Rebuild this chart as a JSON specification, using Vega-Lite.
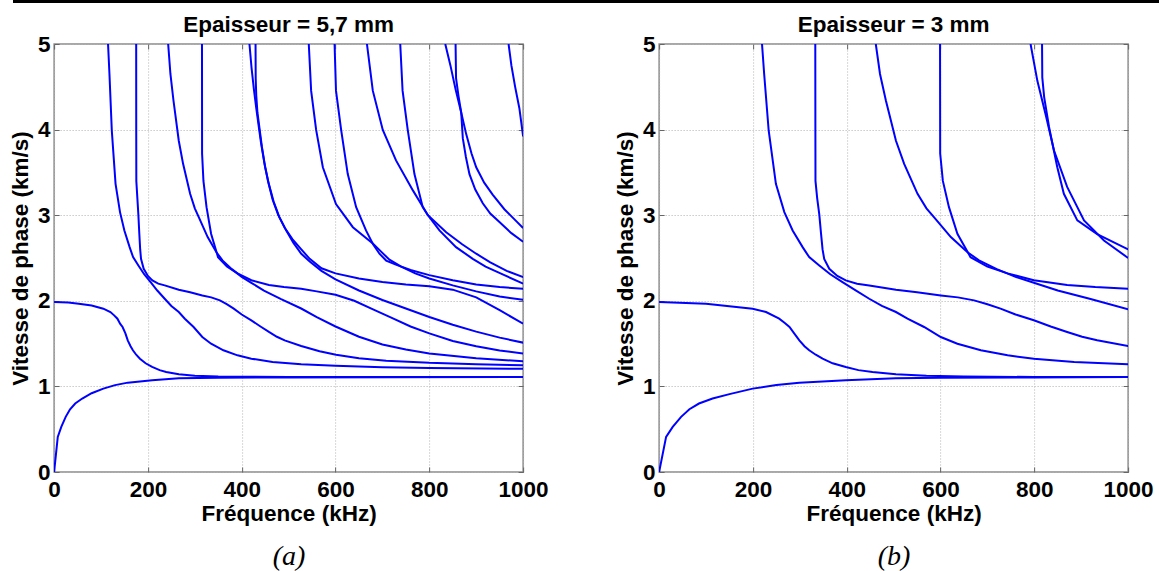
{
"$schema":"https://vega.github.io/schema/vega-lite/v6.json",
"padding":0,
"spacing":9,
"center":true,
"datasets":{
"a":[
{"c":"A0","f":0,"v":0},{"c":"A0","f":7.8,"v":0.41},{"c":"A0","f":15.3,"v":0.527},{"c":"A0","f":24.7,"v":0.644},{"c":"A0","f":34,"v":0.733},{"c":"A0","f":45,"v":0.8},{"c":"A0","f":60,"v":0.858},{"c":"A0","f":80,"v":0.92},{"c":"A0","f":105,"v":0.974},{"c":"A0","f":130,"v":1.015},{"c":"A0","f":157,"v":1.044},{"c":"A0","f":209,"v":1.072},{"c":"A0","f":266,"v":1.095},{"c":"A0","f":350,"v":1.1},{"c":"A0","f":500,"v":1.105},{"c":"A0","f":1000,"v":1.11},
{"c":"S0","f":0,"v":1.985},{"c":"S0","f":30,"v":1.98},{"c":"S0","f":52.6,"v":1.966},{"c":"S0","f":80,"v":1.945},{"c":"S0","f":105,"v":1.908},{"c":"S0","f":120,"v":1.869},{"c":"S0","f":128,"v":1.83},{"c":"S0","f":135,"v":1.791},{"c":"S0","f":141,"v":1.73},{"c":"S0","f":146,"v":1.694},{"c":"S0","f":152,"v":1.62},{"c":"S0","f":157,"v":1.538},{"c":"S0","f":163,"v":1.47},{"c":"S0","f":168,"v":1.422},{"c":"S0","f":175,"v":1.37},{"c":"S0","f":183,"v":1.324},{"c":"S0","f":195,"v":1.27},{"c":"S0","f":209,"v":1.227},{"c":"S0","f":225,"v":1.19},{"c":"S0","f":239,"v":1.169},{"c":"S0","f":266,"v":1.142},{"c":"S0","f":300,"v":1.125},{"c":"S0","f":350,"v":1.115},{"c":"S0","f":500,"v":1.11},{"c":"S0","f":1000,"v":1.11},
{"c":"L1","f":115,"v":5},{"c":"L1","f":118,"v":4.65},{"c":"L1","f":123,"v":3.99},{"c":"L1","f":131,"v":3.366},{"c":"L1","f":140.5,"v":3.036},{"c":"L1","f":149.8,"v":2.822},{"c":"L1","f":161,"v":2.627},{"c":"L1","f":168.4,"v":2.51},{"c":"L1","f":179.7,"v":2.413},{"c":"L1","f":192,"v":2.31},{"c":"L1","f":205.8,"v":2.219},{"c":"L1","f":220,"v":2.12},{"c":"L1","f":235.8,"v":2.024},{"c":"L1","f":250,"v":1.94},{"c":"L1","f":265.8,"v":1.869},{"c":"L1","f":278.7,"v":1.791},{"c":"L1","f":297.4,"v":1.694},{"c":"L1","f":316,"v":1.577},{"c":"L1","f":334.7,"v":1.499},{"c":"L1","f":361,"v":1.422},{"c":"L1","f":391,"v":1.363},{"c":"L1","f":420.5,"v":1.324},{"c":"L1","f":465.8,"v":1.286},{"c":"L1","f":526.8,"v":1.258},{"c":"L1","f":600,"v":1.24},{"c":"L1","f":700,"v":1.225},{"c":"L1","f":800,"v":1.215},{"c":"L1","f":1000,"v":1.205},
{"c":"L2","f":175,"v":5},{"c":"L2","f":175.1,"v":4},{"c":"L2","f":175.3,"v":3.4},{"c":"L2","f":177.5,"v":3.2},{"c":"L2","f":179.7,"v":3},{"c":"L2","f":181.5,"v":2.8},{"c":"L2","f":183.5,"v":2.6},{"c":"L2","f":185.3,"v":2.49},{"c":"L2","f":191,"v":2.374},{"c":"L2","f":200,"v":2.29},{"c":"L2","f":209.5,"v":2.238},{"c":"L2","f":222,"v":2.2},{"c":"L2","f":235.8,"v":2.18},{"c":"L2","f":265.8,"v":2.129},{"c":"L2","f":290,"v":2.1},{"c":"L2","f":316,"v":2.063},{"c":"L2","f":335,"v":2.04},{"c":"L2","f":353.5,"v":2.005},{"c":"L2","f":368,"v":1.96},{"c":"L2","f":383,"v":1.908},{"c":"L2","f":400,"v":1.84},{"c":"L2","f":420.5,"v":1.772},{"c":"L2","f":440,"v":1.7},{"c":"L2","f":458,"v":1.636},{"c":"L2","f":475,"v":1.58},{"c":"L2","f":491.6,"v":1.538},{"c":"L2","f":526.8,"v":1.472},{"c":"L2","f":566,"v":1.41},{"c":"L2","f":601,"v":1.37},{"c":"L2","f":650,"v":1.33},{"c":"L2","f":708,"v":1.3},{"c":"L2","f":800,"v":1.275},{"c":"L2","f":900,"v":1.26},{"c":"L2","f":1000,"v":1.247},
{"c":"L3","f":243.2,"v":5},{"c":"L3","f":248,"v":4.65},{"c":"L3","f":254.5,"v":4.34},{"c":"L3","f":265.8,"v":3.87},{"c":"L3","f":275,"v":3.6},{"c":"L3","f":290,"v":3.25},{"c":"L3","f":300,"v":3.08},{"c":"L3","f":308.4,"v":2.978},{"c":"L3","f":327.4,"v":2.744},{"c":"L3","f":345.8,"v":2.57},{"c":"L3","f":359,"v":2.472},{"c":"L3","f":379,"v":2.37},{"c":"L3","f":400,"v":2.28},{"c":"L3","f":420.5,"v":2.21},{"c":"L3","f":447.4,"v":2.12},{"c":"L3","f":484,"v":2.02},{"c":"L3","f":526.8,"v":1.91},{"c":"L3","f":560,"v":1.81},{"c":"L3","f":600,"v":1.7},{"c":"L3","f":650,"v":1.58},{"c":"L3","f":700,"v":1.49},{"c":"L3","f":750,"v":1.43},{"c":"L3","f":800,"v":1.385},{"c":"L3","f":900,"v":1.33},{"c":"L3","f":1000,"v":1.293},
{"c":"L4","f":315.3,"v":5},{"c":"L4","f":315.5,"v":3.72},{"c":"L4","f":318.4,"v":3.4},{"c":"L4","f":325,"v":3.094},{"c":"L4","f":334.7,"v":2.783},{"c":"L4","f":349.5,"v":2.51},{"c":"L4","f":368.4,"v":2.4},{"c":"L4","f":391,"v":2.32},{"c":"L4","f":420.5,"v":2.24},{"c":"L4","f":458,"v":2.185},{"c":"L4","f":490,"v":2.16},{"c":"L4","f":526.8,"v":2.14},{"c":"L4","f":560,"v":2.11},{"c":"L4","f":600,"v":2.07},{"c":"L4","f":640,"v":2},{"c":"L4","f":680,"v":1.9},{"c":"L4","f":720,"v":1.8},{"c":"L4","f":760,"v":1.7},{"c":"L4","f":800,"v":1.62},{"c":"L4","f":850,"v":1.53},{"c":"L4","f":900,"v":1.47},{"c":"L4","f":950,"v":1.42},{"c":"L4","f":1000,"v":1.383},
{"c":"L5","f":416.5,"v":5},{"c":"L5","f":421,"v":4.72},{"c":"L5","f":426,"v":4.47},{"c":"L5","f":431,"v":4.25},{"c":"L5","f":436,"v":4.05},{"c":"L5","f":441,"v":3.85},{"c":"L5","f":448,"v":3.62},{"c":"L5","f":456,"v":3.4},{"c":"L5","f":466,"v":3.18},{"c":"L5","f":478,"v":3},{"c":"L5","f":492,"v":2.85},{"c":"L5","f":508,"v":2.72},{"c":"L5","f":527,"v":2.6},{"c":"L5","f":545,"v":2.49},{"c":"L5","f":570,"v":2.38},{"c":"L5","f":600,"v":2.32},{"c":"L5","f":650,"v":2.26},{"c":"L5","f":700,"v":2.22},{"c":"L5","f":750,"v":2.19},{"c":"L5","f":800,"v":2.17},{"c":"L5","f":850,"v":2.13},{"c":"L5","f":900,"v":2.04},{"c":"L5","f":950,"v":1.89},{"c":"L5","f":1000,"v":1.733},
{"c":"L6","f":429.5,"v":5},{"c":"L6","f":429.8,"v":4.6},{"c":"L6","f":431,"v":4.4},{"c":"L6","f":433.5,"v":4.2},{"c":"L6","f":437.6,"v":4.03},{"c":"L6","f":443,"v":3.8},{"c":"L6","f":450,"v":3.56},{"c":"L6","f":458,"v":3.36},{"c":"L6","f":468,"v":3.16},{"c":"L6","f":480,"v":2.98},{"c":"L6","f":495,"v":2.82},{"c":"L6","f":510,"v":2.68},{"c":"L6","f":527,"v":2.55},{"c":"L6","f":545,"v":2.46},{"c":"L6","f":570,"v":2.35},{"c":"L6","f":600,"v":2.25},{"c":"L6","f":650,"v":2.12},{"c":"L6","f":700,"v":2.01},{"c":"L6","f":750,"v":1.91},{"c":"L6","f":800,"v":1.81},{"c":"L6","f":850,"v":1.72},{"c":"L6","f":900,"v":1.64},{"c":"L6","f":950,"v":1.57},{"c":"L6","f":1000,"v":1.511},
{"c":"L7","f":543,"v":5},{"c":"L7","f":548,"v":4.455},{"c":"L7","f":558.7,"v":3.996},{"c":"L7","f":573,"v":3.56},{"c":"L7","f":601,"v":3.13},{"c":"L7","f":637,"v":2.86},{"c":"L7","f":679.5,"v":2.67},{"c":"L7","f":700,"v":2.56},{"c":"L7","f":715,"v":2.48},{"c":"L7","f":740,"v":2.4},{"c":"L7","f":770,"v":2.32},{"c":"L7","f":800,"v":2.26},{"c":"L7","f":850,"v":2.18},{"c":"L7","f":900,"v":2.11},{"c":"L7","f":950,"v":2.05},{"c":"L7","f":1000,"v":2.013},
{"c":"L8","f":598,"v":5},{"c":"L8","f":601,"v":4.455},{"c":"L8","f":612,"v":3.996},{"c":"L8","f":626,"v":3.483},{"c":"L8","f":644,"v":3.094},{"c":"L8","f":665,"v":2.822},{"c":"L8","f":680,"v":2.66},{"c":"L8","f":693.7,"v":2.55},{"c":"L8","f":708,"v":2.47},{"c":"L8","f":730,"v":2.42},{"c":"L8","f":760,"v":2.36},{"c":"L8","f":800,"v":2.3},{"c":"L8","f":850,"v":2.24},{"c":"L8","f":900,"v":2.19},{"c":"L8","f":950,"v":2.16},{"c":"L8","f":1000,"v":2.141},
{"c":"L9","f":667,"v":5},{"c":"L9","f":679.5,"v":4.455},{"c":"L9","f":700.8,"v":3.996},{"c":"L9","f":729,"v":3.64},{"c":"L9","f":765,"v":3.29},{"c":"L9","f":797,"v":3},{"c":"L9","f":836,"v":2.8},{"c":"L9","f":870,"v":2.66},{"c":"L9","f":900,"v":2.55},{"c":"L9","f":930,"v":2.45},{"c":"L9","f":965,"v":2.35},{"c":"L9","f":1000,"v":2.277},
{"c":"L10","f":738,"v":5},{"c":"L10","f":743,"v":4.455},{"c":"L10","f":754,"v":3.996},{"c":"L10","f":768.3,"v":3.48},{"c":"L10","f":786,"v":3.094},{"c":"L10","f":797,"v":3},{"c":"L10","f":821.6,"v":2.822},{"c":"L10","f":857,"v":2.627},{"c":"L10","f":892.7,"v":2.49},{"c":"L10","f":920,"v":2.4},{"c":"L10","f":960,"v":2.3},{"c":"L10","f":1000,"v":2.2},
{"c":"L11","f":834,"v":5},{"c":"L11","f":845,"v":4.75},{"c":"L11","f":856,"v":4.47},{"c":"L11","f":868,"v":4.2},{"c":"L11","f":878.5,"v":3.95},{"c":"L11","f":890,"v":3.72},{"c":"L11","f":900,"v":3.56},{"c":"L11","f":917,"v":3.38},{"c":"L11","f":935,"v":3.24},{"c":"L11","f":960,"v":3.07},{"c":"L11","f":980,"v":2.96},{"c":"L11","f":1000,"v":2.85},
{"c":"L12","f":856,"v":5},{"c":"L12","f":857,"v":4.6},{"c":"L12","f":862,"v":4.4},{"c":"L12","f":868,"v":4.2},{"c":"L12","f":871.4,"v":3.9},{"c":"L12","f":878,"v":3.68},{"c":"L12","f":885.6,"v":3.48},{"c":"L12","f":898,"v":3.3},{"c":"L12","f":914,"v":3.14},{"c":"L12","f":930,"v":3.02},{"c":"L12","f":949.5,"v":2.92},{"c":"L12","f":975,"v":2.79},{"c":"L12","f":1000,"v":2.69},
{"c":"L13","f":969,"v":5},{"c":"L13","f":975,"v":4.75},{"c":"L13","f":983,"v":4.5},{"c":"L13","f":992,"v":4.25},{"c":"L13","f":1000,"v":3.92}
],
"b":[
{"c":"A0","f":0,"v":0},{"c":"A0","f":14.9,"v":0.41},{"c":"A0","f":29,"v":0.527},{"c":"A0","f":46.9,"v":0.644},{"c":"A0","f":64.6,"v":0.733},{"c":"A0","f":85,"v":0.8},{"c":"A0","f":114,"v":0.858},{"c":"A0","f":150,"v":0.91},{"c":"A0","f":199.5,"v":0.974},{"c":"A0","f":250,"v":1.015},{"c":"A0","f":299,"v":1.044},{"c":"A0","f":398,"v":1.072},{"c":"A0","f":505,"v":1.095},{"c":"A0","f":600,"v":1.1},{"c":"A0","f":800,"v":1.105},{"c":"A0","f":1000,"v":1.11},
{"c":"S0","f":0,"v":1.985},{"c":"S0","f":100,"v":1.966},{"c":"S0","f":199.5,"v":1.908},{"c":"S0","f":228,"v":1.869},{"c":"S0","f":256,"v":1.791},{"c":"S0","f":268,"v":1.74},{"c":"S0","f":278,"v":1.694},{"c":"S0","f":288,"v":1.62},{"c":"S0","f":299,"v":1.538},{"c":"S0","f":310,"v":1.47},{"c":"S0","f":320,"v":1.422},{"c":"S0","f":334,"v":1.37},{"c":"S0","f":348.6,"v":1.324},{"c":"S0","f":370,"v":1.27},{"c":"S0","f":398,"v":1.227},{"c":"S0","f":425,"v":1.19},{"c":"S0","f":455,"v":1.169},{"c":"S0","f":505,"v":1.142},{"c":"S0","f":570,"v":1.125},{"c":"S0","f":650,"v":1.115},{"c":"S0","f":800,"v":1.11},{"c":"S0","f":1000,"v":1.11},
{"c":"R1","f":219.4,"v":5},{"c":"R1","f":224,"v":4.65},{"c":"R1","f":233.6,"v":3.99},{"c":"R1","f":249,"v":3.366},{"c":"R1","f":267,"v":3.036},{"c":"R1","f":284.7,"v":2.822},{"c":"R1","f":306,"v":2.627},{"c":"R1","f":320,"v":2.51},{"c":"R1","f":341.5,"v":2.413},{"c":"R1","f":365,"v":2.31},{"c":"R1","f":391,"v":2.219},{"c":"R1","f":420,"v":2.12},{"c":"R1","f":448,"v":2.024},{"c":"R1","f":475,"v":1.94},{"c":"R1","f":505,"v":1.869},{"c":"R1","f":529.6,"v":1.791},{"c":"R1","f":565,"v":1.694},{"c":"R1","f":600.6,"v":1.577},{"c":"R1","f":636,"v":1.499},{"c":"R1","f":686,"v":1.422},{"c":"R1","f":743,"v":1.363},{"c":"R1","f":799,"v":1.324},{"c":"R1","f":885,"v":1.286},{"c":"R1","f":1000,"v":1.258},
{"c":"R2","f":333,"v":5},{"c":"R2","f":333.2,"v":4},{"c":"R2","f":333.4,"v":3.4},{"c":"R2","f":337,"v":3.2},{"c":"R2","f":341.5,"v":3.01},{"c":"R2","f":345,"v":2.8},{"c":"R2","f":348.5,"v":2.6},{"c":"R2","f":352,"v":2.49},{"c":"R2","f":362.8,"v":2.374},{"c":"R2","f":380,"v":2.29},{"c":"R2","f":398,"v":2.238},{"c":"R2","f":422,"v":2.2},{"c":"R2","f":448,"v":2.18},{"c":"R2","f":505,"v":2.129},{"c":"R2","f":550,"v":2.1},{"c":"R2","f":600.6,"v":2.063},{"c":"R2","f":637,"v":2.04},{"c":"R2","f":671.6,"v":2.005},{"c":"R2","f":700,"v":1.96},{"c":"R2","f":728,"v":1.908},{"c":"R2","f":760,"v":1.84},{"c":"R2","f":799,"v":1.772},{"c":"R2","f":835,"v":1.7},{"c":"R2","f":870,"v":1.636},{"c":"R2","f":902,"v":1.58},{"c":"R2","f":934,"v":1.538},{"c":"R2","f":1000,"v":1.472},
{"c":"R3","f":462,"v":5},{"c":"R3","f":471,"v":4.65},{"c":"R3","f":483.5,"v":4.34},{"c":"R3","f":505,"v":3.87},{"c":"R3","f":522.5,"v":3.6},{"c":"R3","f":551,"v":3.25},{"c":"R3","f":570,"v":3.08},{"c":"R3","f":586,"v":2.978},{"c":"R3","f":622,"v":2.744},{"c":"R3","f":657,"v":2.57},{"c":"R3","f":682,"v":2.472},{"c":"R3","f":720,"v":2.37},{"c":"R3","f":760,"v":2.28},{"c":"R3","f":799,"v":2.21},{"c":"R3","f":850,"v":2.12},{"c":"R3","f":920,"v":2.02},{"c":"R3","f":1000,"v":1.9},
{"c":"R4","f":599,"v":5},{"c":"R4","f":599.3,"v":3.72},{"c":"R4","f":605,"v":3.4},{"c":"R4","f":618,"v":3.094},{"c":"R4","f":636,"v":2.783},{"c":"R4","f":664,"v":2.51},{"c":"R4","f":700,"v":2.4},{"c":"R4","f":743,"v":2.32},{"c":"R4","f":799,"v":2.24},{"c":"R4","f":870,"v":2.185},{"c":"R4","f":930,"v":2.16},{"c":"R4","f":1000,"v":2.14},
{"c":"R5","f":792,"v":5},{"c":"R5","f":806.5,"v":4.57},{"c":"R5","f":824,"v":4.18},{"c":"R5","f":842,"v":3.755},{"c":"R5","f":870,"v":3.33},{"c":"R5","f":906,"v":2.94},{"c":"R5","f":948.5,"v":2.705},{"c":"R5","f":1000,"v":2.5},
{"c":"R6","f":816.5,"v":5},{"c":"R6","f":817,"v":4.61},{"c":"R6","f":821,"v":4.38},{"c":"R6","f":831.4,"v":4.03},{"c":"R6","f":849,"v":3.56},{"c":"R6","f":863,"v":3.25},{"c":"R6","f":891.7,"v":2.94},{"c":"R6","f":934,"v":2.78},{"c":"R6","f":1000,"v":2.6}
]
},
"vconcat":[
{"width":1179,"height":1,"data":{"values":[]},"mark":{"type":"point","opacity":0},"encoding":{},"view":{"stroke":"#000000","strokeWidth":2,"fill":null}},
{"hconcat":[
{"width":469,"height":428,
 "title":{"text":"Epaisseur = 5,7 mm","anchor":"middle","offset":-3},
 "layer":[
  {"data":{"name":"a"},"mark":{"type":"line","color":"#0000ff","strokeWidth":2,"clip":true},
   "encoding":{
    "x":{"field":"f","type":"quantitative","scale":{"domain":[0,1000],"nice":false},"axis":{"values":[0,200,400,600,800,1000],"format":"d","title":"Fréquence (kHz)","labelPadding":11,"titlePadding":2}},
    "y":{"field":"v","type":"quantitative","scale":{"domain":[0,5],"nice":false},"axis":{"values":[0,1,2,3,4,5],"format":"d","title":"Vitesse de phase (km/s)","labelPadding":9,"titlePadding":5}},
    "detail":{"field":"c","type":"nominal"}}},
  {"data":{"values":[{"f":0,"v":0}]},"mark":{"type":"point","opacity":0},
   "encoding":{"x":{"field":"f","type":"quantitative","axis":{"orient":"bottom","offset":70,"title":"(a)","labels":false,"ticks":false,"domain":false,"grid":false,"titleFont":"Liberation Serif","titleFontStyle":"italic","titleFontWeight":"normal","titleFontSize":28,"titlePadding":0}},
    "y":{"field":"v","type":"quantitative","axis":{"orient":"left","offset":45,"title":null,"labels":false,"grid":false,"domain":false,"ticks":true,"tickSize":8,"tickOpacity":0,"values":[2.5]}}}},
  {"data":{"values":[{"f":0,"v":0}]},"mark":{"type":"point","opacity":0},
   "encoding":{"x":{"field":"f","type":"quantitative","axis":{"orient":"top","title":null,"labels":false,"grid":false,"values":[0,200,400,600,800,1000]}},
    "y":{"field":"v","type":"quantitative","axis":{"orient":"right","title":null,"labels":false,"grid":false,"values":[0,1,2,3,4,5]}}}}
 ],
 "resolve":{"axis":{"x":"independent","y":"independent"}}
},
{"width":469,"height":428,
 "title":{"text":"Epaisseur = 3 mm","anchor":"middle","offset":-3},
 "layer":[
  {"data":{"name":"b"},"mark":{"type":"line","color":"#0000ff","strokeWidth":2,"clip":true},
   "encoding":{
    "x":{"field":"f","type":"quantitative","scale":{"domain":[0,1000],"nice":false},"axis":{"values":[0,200,400,600,800,1000],"format":"d","title":"Fréquence (kHz)","labelPadding":11,"titlePadding":2}},
    "y":{"field":"v","type":"quantitative","scale":{"domain":[0,5],"nice":false},"axis":{"values":[0,1,2,3,4,5],"format":"d","title":"Vitesse de phase (km/s)","labelPadding":9,"titlePadding":5}},
    "detail":{"field":"c","type":"nominal"}}},
  {"data":{"values":[{"f":0}]},"mark":{"type":"point","opacity":0},
   "encoding":{"x":{"field":"f","type":"quantitative","axis":{"orient":"bottom","offset":70,"title":"(b)","labels":false,"ticks":false,"domain":false,"grid":false,"titleFont":"Liberation Serif","titleFontStyle":"italic","titleFontWeight":"normal","titleFontSize":28,"titlePadding":0}}}},
  {"data":{"values":[{"f":0,"v":0}]},"mark":{"type":"point","opacity":0},
   "encoding":{"x":{"field":"f","type":"quantitative","axis":{"orient":"top","title":null,"labels":false,"grid":false,"values":[0,200,400,600,800,1000]}},
    "y":{"field":"v","type":"quantitative","axis":{"orient":"right","title":null,"labels":false,"grid":false,"values":[0,1,2,3,4,5]}}}}
 ],
 "resolve":{"axis":{"x":"independent","y":"independent"}}
}
],"spacing":136,"bounds":"flush"}
],
"config":{
 "font":"Liberation Sans",
 "view":{"stroke":"#8c8c8c","strokeWidth":1.5},
 "title":{"font":"Liberation Sans","fontSize":22.5,"fontWeight":"bold","color":"#000000"},
 "axis":{"labelFont":"Liberation Sans","labelFontSize":22.5,"labelFontWeight":"bold","labelColor":"#000000","titleFont":"Liberation Sans","titleFontSize":22.5,"titleFontWeight":"bold","titleColor":"#000000","gridColor":"#b0b0b0","gridDash":[1,2],"gridWidth":1,"domain":false,"tickColor":"#666666","tickSize":-5,"tickWidth":1,"labelFlush":false,"labelOverlap":false}
}
}
